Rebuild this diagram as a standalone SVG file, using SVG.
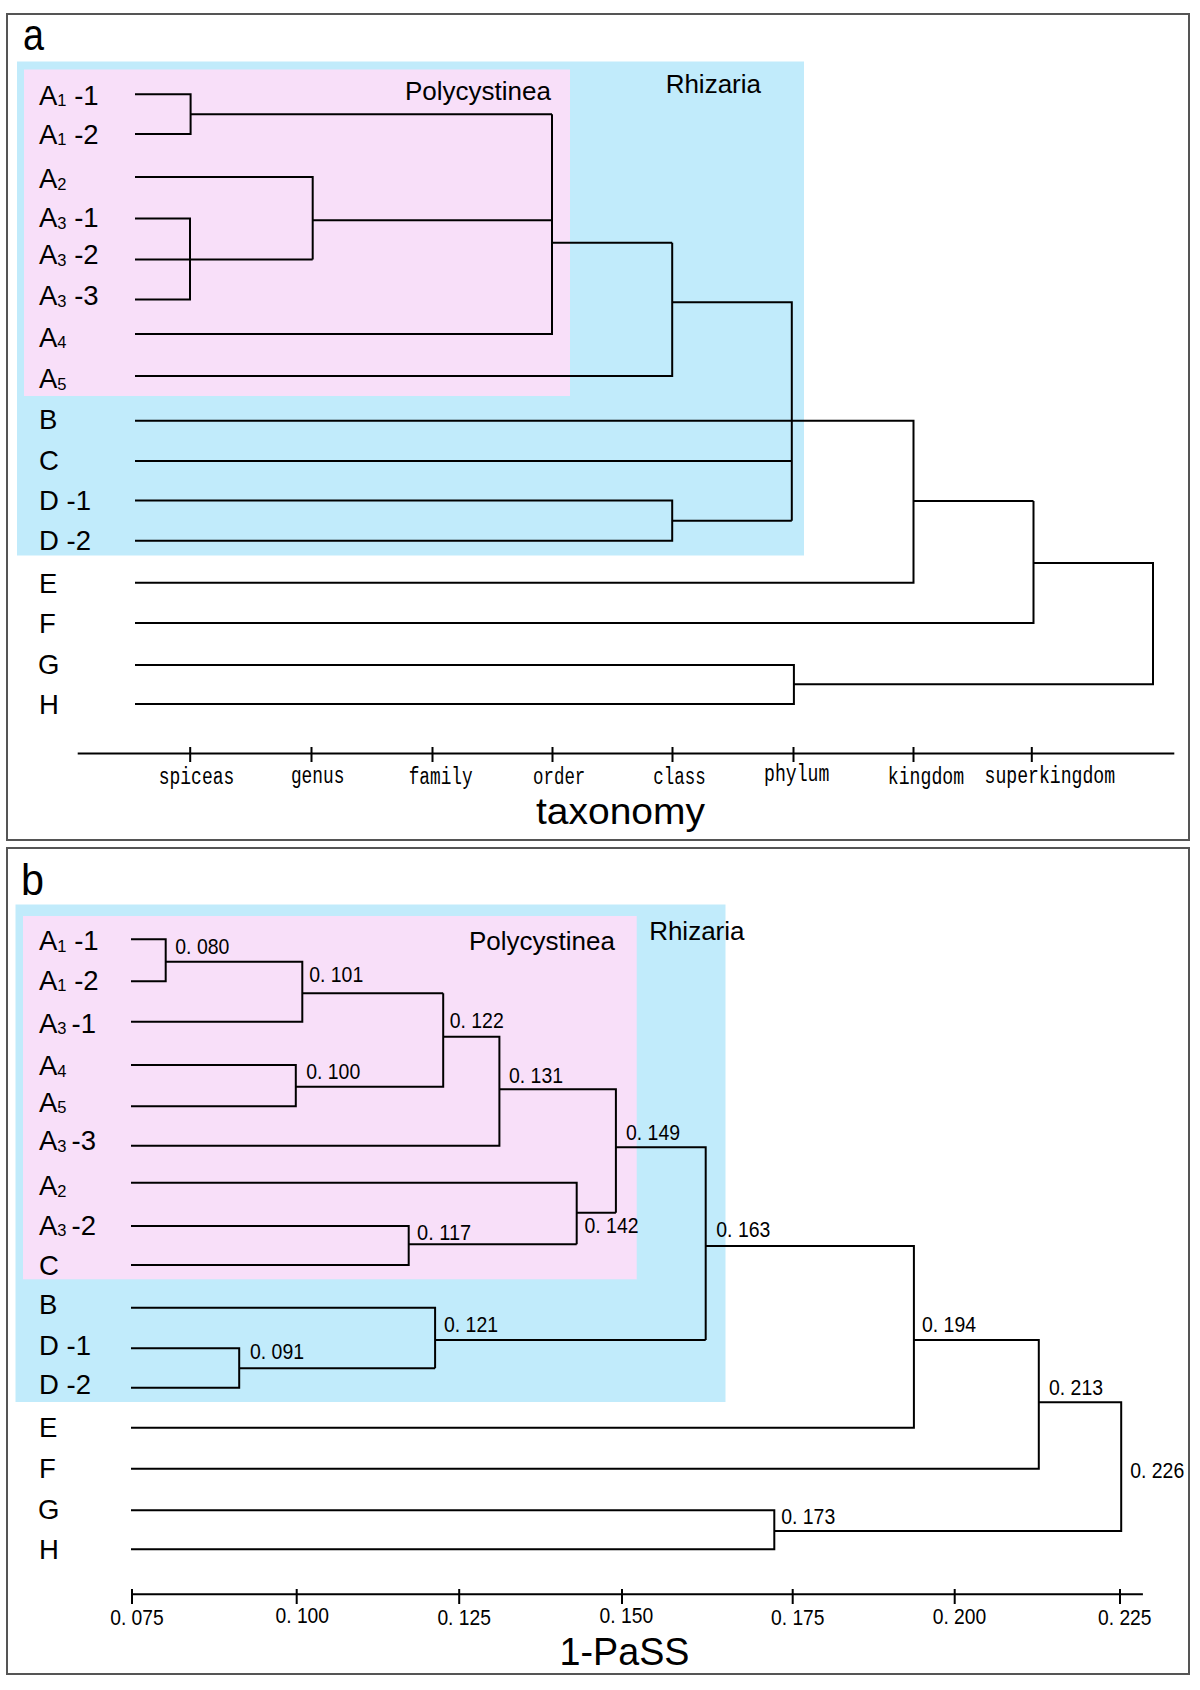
<svg xmlns="http://www.w3.org/2000/svg" width="1200" height="1690" viewBox="0 0 1200 1690">
<style>
.frame{fill:#fff;stroke:#555;stroke-width:2}
.blue{fill:#c1ebfb}
.pink{fill:#f8dff9}
.ln{fill:none;stroke:#000;stroke-width:2}
.lbl{font-family:"Liberation Sans",Arial,sans-serif;font-size:27.5px;fill:#000}
.sub{font-size:16.5px}
.grp{font-family:"Liberation Sans",Arial,sans-serif;font-size:26px;fill:#000}
.num{font-family:"Liberation Sans",Arial,sans-serif;font-size:22.5px;fill:#000}
.tax{font-family:"Liberation Mono","DejaVu Sans Mono",monospace;font-size:23.5px;fill:#000}
.title{font-family:"Liberation Sans",Arial,sans-serif;font-size:39px;fill:#000}
.panel{font-family:"Liberation Sans",Arial,sans-serif;font-size:44px;fill:#000}
</style>
<rect width="1200" height="1690" fill="#fff"/>

<!-- Panel a -->
<g id="panel-a">
<rect class="frame" x="7" y="14" width="1182" height="826"/>
<text class="panel" x="23" y="50" textLength="21" lengthAdjust="spacingAndGlyphs">a</text>
<g id="a-rhizaria"><rect class="blue" x="17" y="61.5" width="787" height="494"/>
<text class="grp" x="761" y="93" text-anchor="end">Rhizaria</text></g>
<g id="a-polycystinea"><rect class="pink" x="24" y="69.5" width="546" height="326.5"/>
<text class="grp" x="551" y="100" text-anchor="end">Polycystinea</text></g>

<g id="a-leaves">
<g id="a-A1-1"><text class="lbl" x="39" y="104.5">A<tspan class="sub" dy="1.5">1</tspan><tspan dy="-1.5"> -1</tspan></text></g>
<g id="a-A1-2"><text class="lbl" x="39" y="143.5">A<tspan class="sub" dy="1.5">1</tspan><tspan dy="-1.5"> -2</tspan></text></g>
<g id="a-A2"><text class="lbl" x="39" y="188">A<tspan class="sub" dy="1.5">2</tspan></text></g>
<g id="a-A3-1"><text class="lbl" x="39" y="227">A<tspan class="sub" dy="1.5">3</tspan><tspan dy="-1.5"> -1</tspan></text></g>
<g id="a-A3-2"><text class="lbl" x="39" y="264">A<tspan class="sub" dy="1.5">3</tspan><tspan dy="-1.5"> -2</tspan></text></g>
<g id="a-A3-3"><text class="lbl" x="39" y="305">A<tspan class="sub" dy="1.5">3</tspan><tspan dy="-1.5"> -3</tspan></text></g>
<g id="a-A4"><text class="lbl" x="39" y="346.5">A<tspan class="sub" dy="1.5">4</tspan></text></g>
<g id="a-A5"><text class="lbl" x="39" y="388">A<tspan class="sub" dy="1.5">5</tspan></text></g>
<g id="a-B"><text class="lbl" x="39" y="428.5">B</text></g>
<g id="a-C"><text class="lbl" x="39" y="469.5">C</text></g>
<g id="a-D-1"><text class="lbl" x="39" y="510">D -1</text></g>
<g id="a-D-2"><text class="lbl" x="39" y="550">D -2</text></g>
<g id="a-E"><text class="lbl" x="39" y="592.5">E</text></g>
<g id="a-F"><text class="lbl" x="39" y="632.5">F</text></g>
<g id="a-G"><text class="lbl" x="38" y="673.5">G</text></g>
<g id="a-H"><text class="lbl" x="39" y="713.5">H</text></g>
</g>

<g id="a-connectors">
<path class="ln" d="M135,94.3 H190.6 V134 H135"/>
<path class="ln" d="M190.6,114.3 H552"/>
<path class="ln" d="M135,218.5 H190 V299.5 H135"/>
<path class="ln" d="M135,259.5 H312.7"/>
<path class="ln" d="M135,177 H312.7 V259.5"/>
<path class="ln" d="M312.7,220.3 H552"/>
<path class="ln" d="M552,114.3 V334 H135"/>
<path class="ln" d="M552,242.7 H672.2"/>
<path class="ln" d="M672.2,242.7 V376 H135"/>
<path class="ln" d="M672.2,302.3 H791.8 V520.7"/>
<path class="ln" d="M135,461 H791.8"/>
<path class="ln" d="M135,500.5 H672.2 V540.7 H135"/>
<path class="ln" d="M672.2,520.7 H791.8"/>
<path class="ln" d="M135,420.7 H913.5 V582.7 H135"/>
<path class="ln" d="M913.5,501 H1033.5"/>
<path class="ln" d="M135,623 H1033.5 V501"/>
<path class="ln" d="M1033.5,563 H1153 V684.3 H793.9"/>
<path class="ln" d="M135,665 H793.9 V704 H135"/>
</g>

<g id="a-axis">
<path class="ln" d="M77.7,753.5 H1174.3 M190.2,747 V762 M311.5,747 V762 M432.5,747 V762 M552.5,747 V762 M672.5,747 V762 M793.5,747 V762 M913.5,747 V762 M1031.8,747 V762"/>
<text class="tax" x="158.8" y="784" textLength="75.4" lengthAdjust="spacingAndGlyphs">spiceas</text>
<text class="tax" x="290.9" y="783" textLength="53.5" lengthAdjust="spacingAndGlyphs">genus</text>
<text class="tax" x="408.7" y="784" textLength="64" lengthAdjust="spacingAndGlyphs">family</text>
<text class="tax" x="533.1" y="784" textLength="52.2" lengthAdjust="spacingAndGlyphs">order</text>
<text class="tax" x="653.3" y="784" textLength="52.4" lengthAdjust="spacingAndGlyphs">class</text>
<text class="tax" x="764" y="781" textLength="65.4" lengthAdjust="spacingAndGlyphs">phylum</text>
<text class="tax" x="887.8" y="784" textLength="76.3" lengthAdjust="spacingAndGlyphs">kingdom</text>
<text class="tax" x="984.5" y="783" textLength="130.6" lengthAdjust="spacingAndGlyphs">superkingdom</text>
<text class="title" x="536" y="824" textLength="169" lengthAdjust="spacingAndGlyphs" style="font-size:36px">taxonomy</text>
</g>
</g>

<!-- Panel b -->
<g id="panel-b">
<rect class="frame" x="7" y="848" width="1182" height="826"/>
<text class="panel" x="21" y="895" textLength="23" lengthAdjust="spacingAndGlyphs">b</text>
<g id="b-rhizaria"><rect class="blue" x="15.5" y="904.5" width="710" height="497.5"/></g>
<g id="b-polycystinea"><rect class="pink" x="23" y="916" width="613.7" height="363.3"/>
<text class="grp" x="615" y="950" text-anchor="end">Polycystinea</text></g>
<text class="grp" x="744.5" y="939.5" text-anchor="end">Rhizaria</text>

<g id="b-leaves">
<g id="b-A1-1"><text class="lbl" x="39" y="950">A<tspan class="sub" dy="1.5">1</tspan><tspan dy="-1.5"> -1</tspan></text></g>
<g id="b-A1-2"><text class="lbl" x="39" y="989.5">A<tspan class="sub" dy="1.5">1</tspan><tspan dy="-1.5"> -2</tspan></text></g>
<g id="b-A3-1"><text class="lbl" x="39" y="1032.5">A<tspan class="sub" dy="1.5">3</tspan><tspan dy="-1.5" dx="5">-1</tspan></text></g>
<g id="b-A4"><text class="lbl" x="39" y="1075">A<tspan class="sub" dy="1.5">4</tspan></text></g>
<g id="b-A5"><text class="lbl" x="39" y="1111.5">A<tspan class="sub" dy="1.5">5</tspan></text></g>
<g id="b-A3-3"><text class="lbl" x="39" y="1150">A<tspan class="sub" dy="1.5">3</tspan><tspan dy="-1.5" dx="5">-3</tspan></text></g>
<g id="b-A2"><text class="lbl" x="39" y="1195">A<tspan class="sub" dy="1.5">2</tspan></text></g>
<g id="b-A3-2"><text class="lbl" x="39" y="1234.5">A<tspan class="sub" dy="1.5">3</tspan><tspan dy="-1.5" dx="5">-2</tspan></text></g>
<g id="b-C"><text class="lbl" x="39" y="1275">C</text></g>
<g id="b-B"><text class="lbl" x="39" y="1314">B</text></g>
<g id="b-D-1"><text class="lbl" x="39" y="1355">D -1</text></g>
<g id="b-D-2"><text class="lbl" x="39" y="1394">D -2</text></g>
<g id="b-E"><text class="lbl" x="39" y="1436.5">E</text></g>
<g id="b-F"><text class="lbl" x="39" y="1477.5">F</text></g>
<g id="b-G"><text class="lbl" x="38" y="1518.5">G</text></g>
<g id="b-H"><text class="lbl" x="39" y="1558.5">H</text></g>
</g>

<g id="b-connectors">
<path class="ln" d="M131,939.3 H165.7 V981.3 H131"/>
<path class="ln" d="M165.7,961.7 H302.3 V1021.7 H131"/>
<path class="ln" d="M302.3,993.3 H443.2"/>
<path class="ln" d="M131,1065 H295.8 V1106.3 H131"/>
<path class="ln" d="M295.8,1086.7 H443.2 V993.3"/>
<path class="ln" d="M443.2,1036.7 H499.4 V1145.7 H131"/>
<path class="ln" d="M499.4,1089.3 H615.9 V1212.7"/>
<path class="ln" d="M131,1226 H408.7 V1265 H131"/>
<path class="ln" d="M408.7,1244.3 H576.7"/>
<path class="ln" d="M131,1182.7 H576.7 V1244.3"/>
<path class="ln" d="M576.7,1212.7 H615.9"/>
<path class="ln" d="M615.9,1147.3 H705.7 V1340"/>
<path class="ln" d="M131,1348.3 H239.2 V1387.7 H131"/>
<path class="ln" d="M239.2,1368.3 H435.1"/>
<path class="ln" d="M131,1307.7 H435.1 V1368.3"/>
<path class="ln" d="M435.1,1340 H705.7"/>
<path class="ln" d="M705.7,1246 H913.9 V1427.7 H131"/>
<path class="ln" d="M913.9,1340 H1038.8 V1468.7 H131"/>
<path class="ln" d="M1038.8,1402.3 H1121.2 V1531 H774.3"/>
<path class="ln" d="M131,1510.3 H774.3 V1549.3 H131"/>
</g>

<g id="b-values">
<text class="num" x="175.3" y="954.3" textLength="54" lengthAdjust="spacingAndGlyphs">0. 080</text>
<text class="num" x="309.2" y="981.7" textLength="54" lengthAdjust="spacingAndGlyphs">0. 101</text>
<text class="num" x="306.2" y="1079.3" textLength="54" lengthAdjust="spacingAndGlyphs">0. 100</text>
<text class="num" x="449.7" y="1028.3" textLength="54" lengthAdjust="spacingAndGlyphs">0. 122</text>
<text class="num" x="509" y="1082.7" textLength="54" lengthAdjust="spacingAndGlyphs">0. 131</text>
<text class="num" x="626" y="1140" textLength="54" lengthAdjust="spacingAndGlyphs">0. 149</text>
<text class="num" x="584.5" y="1233.3" textLength="54" lengthAdjust="spacingAndGlyphs">0. 142</text>
<text class="num" x="417.1" y="1240" textLength="54" lengthAdjust="spacingAndGlyphs">0. 117</text>
<text class="num" x="250" y="1359.3" textLength="54" lengthAdjust="spacingAndGlyphs">0. 091</text>
<text class="num" x="444" y="1331.7" textLength="54" lengthAdjust="spacingAndGlyphs">0. 121</text>
<text class="num" x="716.3" y="1236.7" textLength="54" lengthAdjust="spacingAndGlyphs">0. 163</text>
<text class="num" x="922" y="1331.7" textLength="54" lengthAdjust="spacingAndGlyphs">0. 194</text>
<text class="num" x="1049" y="1395" textLength="54" lengthAdjust="spacingAndGlyphs">0. 213</text>
<text class="num" x="1130.2" y="1477.7" textLength="54" lengthAdjust="spacingAndGlyphs">0. 226</text>
<text class="num" x="781.2" y="1524" textLength="54" lengthAdjust="spacingAndGlyphs">0. 173</text>
</g>

<g id="b-axis">
<path class="ln" d="M132,1594.3 H1142.9 M132,1589 V1604 M296.7,1589 V1604 M459.2,1589 V1604 M622,1589 V1604 M792.7,1589 V1604 M954.7,1589 V1604 M1120,1589 V1604"/>
<text class="num" x="110.2" y="1625" textLength="53.5" lengthAdjust="spacingAndGlyphs">0. 075</text>
<text class="num" x="275.5" y="1622.7" textLength="53.5" lengthAdjust="spacingAndGlyphs">0. 100</text>
<text class="num" x="437.4" y="1625" textLength="53.5" lengthAdjust="spacingAndGlyphs">0. 125</text>
<text class="num" x="599.6" y="1622.7" textLength="53.5" lengthAdjust="spacingAndGlyphs">0. 150</text>
<text class="num" x="771" y="1625" textLength="53.5" lengthAdjust="spacingAndGlyphs">0. 175</text>
<text class="num" x="932.7" y="1624" textLength="53.5" lengthAdjust="spacingAndGlyphs">0. 200</text>
<text class="num" x="1098" y="1625" textLength="53.5" lengthAdjust="spacingAndGlyphs">0. 225</text>
<text class="title" x="559.5" y="1665" textLength="130" lengthAdjust="spacingAndGlyphs">1-PaSS</text>
</g>
</g>
</svg>
